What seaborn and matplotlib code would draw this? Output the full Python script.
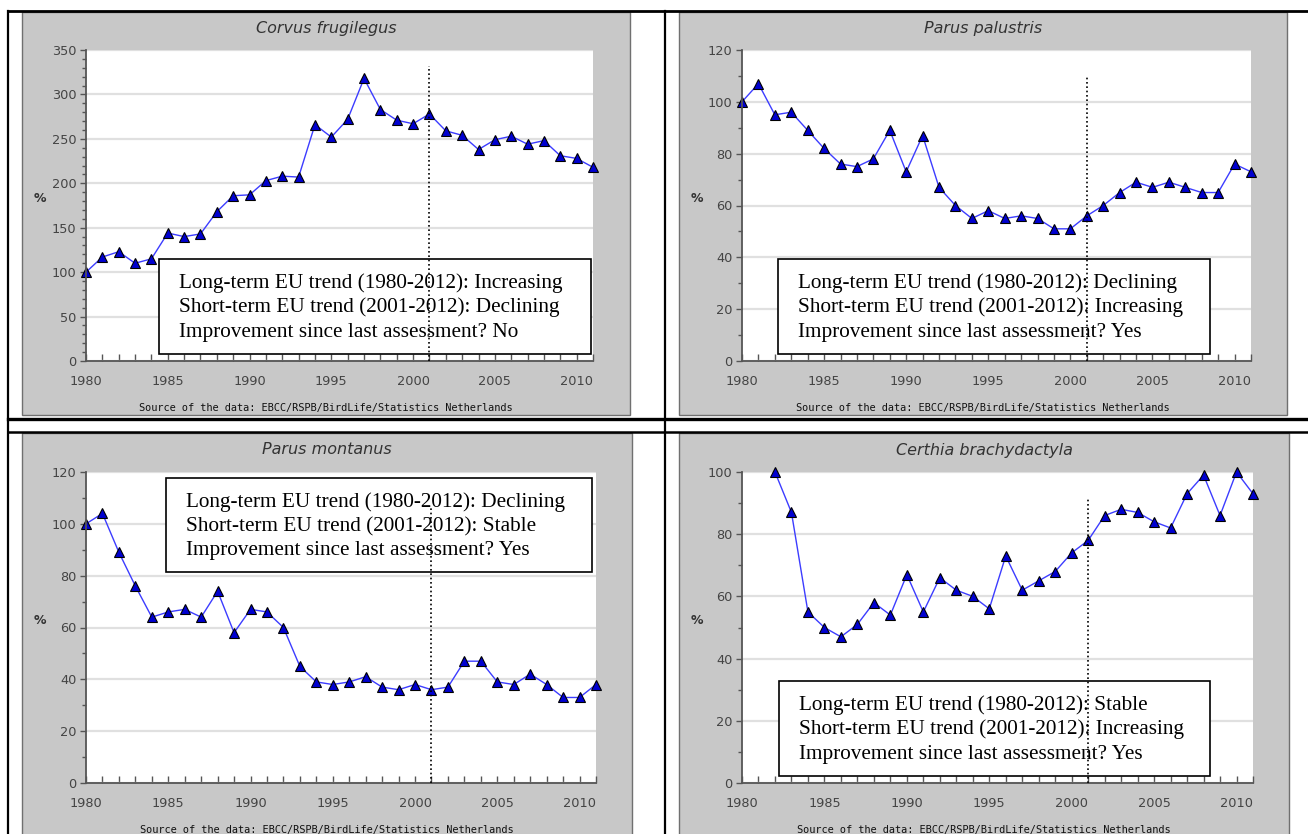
import numpy as np
import pandas as pd
import seaborn as sns
import matplotlib.pyplot as plt
from matplotlib.patches import Rectangle
from matplotlib.lines import Line2D
from matplotlib.ticker import MultipleLocator

# Index values (% of first year)
years = list(range(1980, 2012))
corvus = [100, 117, 123, 110, 115, 144, 140, 143, 168, 186, 187, 203, 208, 207, 266, 252,
          272, 318, 283, 271, 267, 278, 259, 254, 238, 249, 253, 244, 248, 231, 228, 218]
palustris = [100, 107, 95, 96, 89, 82, 76, 75, 78, 89, 73, 87, 67, 60, 55, 58,
             55, 56, 55, 51, 51, 56, 60, 65, 69, 67, 69, 67, 65, 65, 76, 73]
montanus = [100, 104, 89, 76, 64, 66, 67, 64, 74, 58, 67, 66, 60, 45, 39, 38,
            39, 41, 37, 36, 38, 36, 37, 47, 47, 39, 38, 42, 38, 33, 33, 38]
certhia_years = list(range(1982, 2012))
certhia = [100, 87, 55, 50, 47, 51, 58, 54, 67, 55, 66, 62, 60, 56, 73, 62,
           65, 68, 74, 78, 86, 88, 87, 84, 82, 93, 99, 86, 100, 93]

species = ["Corvus frugilegus", "Parus palustris", "Parus montanus", "Certhia brachydactyla"]
long_term = ["Increasing", "Declining", "Declining", "Stable"]
short_term = ["Declining", "Increasing", "Stable", "Increasing"]
improved = ["No", "Yes", "Yes", "Yes"]
source = "Source of the data: EBCC/RSPB/BirdLife/Statistics Netherlands"

# layout in pixels (figure is 1308 x 834)
W, H = 1308, 834
panels = [
    dict(x=years, y=corvus, frame=(22, 12, 630, 415), plot=(86, 50, 593, 361),
         ymax=350, major=50, box=(159, 259, 591, 354), vtop=332, title_y=28, src_y=408),
    dict(x=years, y=palustris, frame=(679, 12, 1287, 415), plot=(742, 50, 1251, 361),
         ymax=120, major=20, box=(778, 259, 1210, 354), vtop=110, title_y=28, src_y=408),
    dict(x=years, y=montanus, frame=(22, 433, 632, 850), plot=(86, 472, 596, 783),
         ymax=120, major=20, box=(166, 478, 592, 572), vtop=106, title_y=450, src_y=830),
    dict(x=certhia_years, y=certhia, frame=(679, 433, 1289, 850), plot=(742, 472, 1253, 783),
         ymax=100, major=20, box=(779, 681, 1210, 776), vtop=92, title_y=450, src_y=830),
]


def fx(x):
    return x / W


def fy(y):
    return 1 - y / H


fig = plt.figure(figsize=(W / 100, H / 100), dpi=100)

# table lines around the four charts
for (x0, y0, x1, y1, lw) in [(8, 11, 1308, 11, 2.0), (8, 11, 8, 834, 1.6),
                             (665, 11, 665, 834, 1.6), (8, 418.5, 1308, 418.5, 2.4),
                             (8, 432, 1308, 432, 1.8)]:
    fig.add_artist(Line2D([fx(x0), fx(x1)], [fy(y0), fy(y1)], color="black",
                          lw=lw, transform=fig.transFigure))

for i, p in enumerate(panels):
    fl, ft, fr, fb = p["frame"]
    fig.patches.append(Rectangle((fx(fl), fy(fb)), (fr - fl) / W, (fb - ft) / H,
                                 transform=fig.transFigure, facecolor="#c8c8c8",
                                 edgecolor="#707070", lw=1.0, zorder=-1))
    cx = (fl + fr) / 2
    fig.text(fx(cx), fy(p["title_y"]), species[i], ha="center", va="center",
             fontsize=11.5, style="italic", color="#333333", family="DejaVu Sans")
    fig.text(fx(cx), fy(p["src_y"]), source, ha="center", va="center",
             fontsize=7.4, color="#111111", family="DejaVu Sans Mono")

    pl, pt, pr, pb = p["plot"]
    ax = fig.add_axes([fx(pl), fy(pb), (pr - pl) / W, (pb - pt) / H])
    ax.set_facecolor("white")

    df = pd.DataFrame({"year": p["x"], "index": p["y"]})
    sns.lineplot(data=df, x="year", y="index", ax=ax, color="#3c3cff", lw=1.0,
                 marker="^", markersize=6.5, markerfacecolor="#0000d0",
                 markeredgecolor="black", markeredgewidth=0.8, clip_on=False, zorder=2.5)

    ax.set_xlim(1980, 2011)
    ax.set_ylim(0, p["ymax"])
    ax.set_xticks(range(1980, 2012))
    ax.set_xticklabels([str(y) if y % 5 == 0 else "" for y in range(1980, 2012)])
    ax.yaxis.set_major_locator(MultipleLocator(p["major"]))
    ax.yaxis.set_minor_locator(MultipleLocator(10))
    ax.tick_params(axis="x", direction="in", length=5, width=1, pad=10,
                   labelsize=9.3, labelcolor="#444444", color="#555555")
    ax.tick_params(axis="y", which="major", direction="out", length=4, width=1, pad=3,
                   labelsize=9.3, labelcolor="#444444", color="#555555")
    ax.tick_params(axis="y", which="minor", direction="out", length=3, width=1,
                   color="#555555")
    for s in ["top", "right"]:
        ax.spines[s].set_visible(False)
    for s in ["left", "bottom"]:
        ax.spines[s].set_color("#555555")
        ax.spines[s].set_linewidth(1.3)
    ax.yaxis.grid(True, color="#e0e0e0", lw=1.6)
    ax.set_axisbelow(True)
    ax.set_xlabel("")
    ax.set_ylabel("%", rotation=0, fontsize=9, fontweight="bold", color="#333333")
    ax.yaxis.set_label_coords((fl + 18 - pl) / (pr - pl), 0.5)

    # trend summary box
    bl, bt, br, bb = p["box"]
    ax.add_patch(Rectangle((fx(bl), fy(bb)), (br - bl) / W, (bb - bt) / H,
                           transform=fig.transFigure, facecolor="white",
                           edgecolor="black", lw=1.2, zorder=3, clip_on=False))
    lines = [f"Long-term EU trend (1980-2012): {long_term[i]}",
             f"Short-term EU trend (2001-2012): {short_term[i]}",
             f"Improvement since last assessment? {improved[i]}"]
    for k, txt in enumerate(lines):
        ax.text(fx(bl + 20), fy(bt + 24 + 24.5 * k), txt, transform=fig.transFigure,
                ha="left", va="center", fontsize=15.3, family="Liberation Serif",
                color="black", zorder=5)

    ax.vlines(2001, 0, p["vtop"], colors="black", linestyles=(0, (1, 1.6)), lw=1.2, zorder=4)

fig.savefig("out.png", dpi=100)
